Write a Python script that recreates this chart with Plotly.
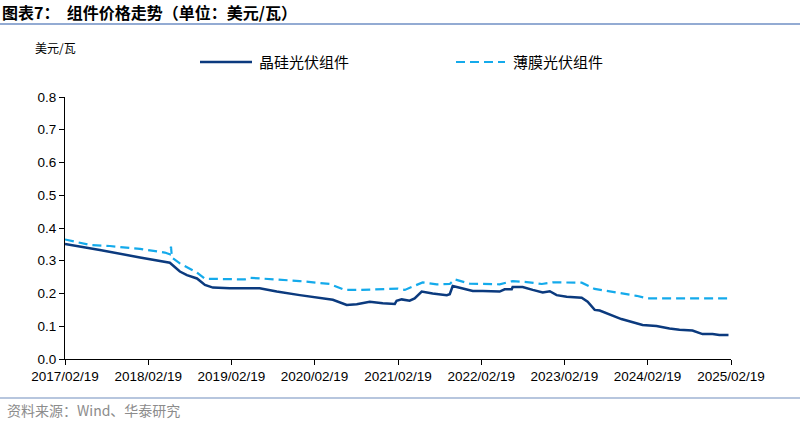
import plotly.graph_objects as go

# 晶硅光伏组件 (crystalline silicon modules), USD/W
csi_dates = ["2017-02-19","2017-07-22","2018-01-14","2018-05-25","2018-07-08","2018-08-08","2018-09-21",
             "2018-10-26","2018-11-30","2019-02-12","2019-06-23","2019-09-06","2019-12-16","2020-02-28",
             "2020-05-09","2020-07-09","2020-08-22","2020-10-18","2020-12-14","2021-02-05","2021-02-13",
             "2021-03-07","2021-04-11","2021-05-03","2021-06-03","2021-07-21","2021-09-21","2021-10-04",
             "2021-10-17","2021-11-26","2022-01-13","2022-02-26","2022-05-11","2022-06-02","2022-07-03",
             "2022-07-07","2022-08-20","2022-10-03","2022-11-16","2022-12-17","2023-01-16","2023-03-01",
             "2023-05-06","2023-06-01","2023-07-02","2023-07-24","2023-10-06","2023-10-27","2024-01-28",
             "2024-03-29","2024-05-25","2024-07-08","2024-09-03","2024-10-17","2024-11-30","2024-12-30",
             "2025-02-08"]
csi_values = [0.351,0.333,0.310,0.294,0.267,0.256,0.246,
              0.226,0.218,0.216,0.216,0.206,0.195,0.188,
              0.181,0.165,0.167,0.175,0.170,0.168,0.178,
              0.182,0.178,0.185,0.206,0.200,0.195,0.198,
              0.223,0.216,0.208,0.208,0.206,0.213,0.213,
              0.220,0.220,0.211,0.203,0.207,0.195,0.190,
              0.187,0.175,0.150,0.148,0.129,0.122,0.104,
              0.101,0.093,0.089,0.087,0.076,0.076,0.073,
              0.073]

# 薄膜光伏组件 (thin-film modules), USD/W
tf_dates = ["2017-02-19","2017-06-09","2017-09-04","2018-01-14","2018-05-03","2018-05-25","2018-05-30",
            "2018-06-03","2018-07-08","2018-09-21","2018-10-26","2019-04-19","2019-05-11","2019-09-19",
            "2019-12-16","2020-04-26","2020-06-30","2020-09-04","2020-12-23","2021-02-18","2021-03-21",
            "2021-04-25","2021-06-07","2021-08-08","2021-10-04","2021-10-26","2021-12-31","2022-05-11",
            "2022-07-07","2022-09-07","2022-11-12","2022-12-30","2023-05-06","2023-07-02","2023-10-06",
            "2024-01-01","2024-02-19","2025-02-08"]
tf_values = [0.365,0.348,0.345,0.336,0.325,0.320,0.343,
             0.310,0.292,0.264,0.245,0.243,0.248,0.243,
             0.238,0.229,0.211,0.211,0.213,0.215,0.211,
             0.221,0.234,0.228,0.229,0.243,0.230,0.228,
             0.238,0.235,0.229,0.234,0.233,0.214,0.203,
             0.193,0.185,0.185]

tick_dates = ["2017-02-19","2018-02-19","2019-02-19","2020-02-19","2021-02-19",
              "2022-02-19","2023-02-19","2024-02-19","2025-02-19"]
tick_labels = ["2017/02/19","2018/02/19","2019/02/19","2020/02/19","2021/02/19",
               "2022/02/19","2023/02/19","2024/02/19","2025/02/19"]
y_ticks = [0.0,0.1,0.2,0.3,0.4,0.5,0.6,0.7,0.8]

CJK = "Noto Sans CJK SC"
LAT = "Liberation Sans, Arial"
DASH = "9px,5px"

fig = go.Figure()
fig.add_trace(go.Scatter(x=csi_dates, y=csi_values, mode="lines", name="晶硅光伏组件",
                         line=dict(color="#0B3A7E", width=2.5)))
fig.add_trace(go.Scatter(x=tf_dates, y=tf_values, mode="lines", name="薄膜光伏组件",
                         line=dict(color="#14AAEB", width=2.2, dash=DASH)))

fig.update_layout(
    width=800, height=423,
    margin=dict(l=65, r=69, t=97, b=64),
    paper_bgcolor="white", plot_bgcolor="white",
    showlegend=False,
    xaxis=dict(type="date", range=["2017-02-19", "2025-02-19"],
               tickvals=tick_dates, ticktext=tick_labels,
               showline=True, linecolor="black", linewidth=1,
               ticks="outside", ticklen=5, tickcolor="black",
               showgrid=False, zeroline=False,
               tickfont=dict(family=LAT, size=13.5, color="black")),
    yaxis=dict(range=[0, 0.8], tickvals=y_ticks, tickformat=".1f",
               showline=True, linecolor="black", linewidth=1,
               ticks="outside", ticklen=5, tickcolor="black",
               showgrid=False, zeroline=False,
               tickfont=dict(family=LAT, size=13.5, color="black")),
)

# Title, rules, unit label, source
fig.add_annotation(xref="paper", yref="paper", x=-65/666, y=1+(97-12)/262, xanchor="left", yanchor="middle",
                   text="<b>图表7：  组件价格走势（单位：美元/瓦）</b>", showarrow=False,
                   font=dict(family=CJK, size=16, color="black"))
fig.add_shape(type="line", xref="paper", yref="paper", x0=-65/666, x1=1+69/666,
              y0=1+(97-24)/262, y1=1+(97-24)/262, line=dict(color="#6F8FC4", width=1.5))
fig.add_shape(type="line", xref="paper", yref="paper", x0=-65/666, x1=1+69/666,
              y0=-(398-359)/262, y1=-(398-359)/262, line=dict(color="#9FB3D3", width=1.5))
fig.add_annotation(xref="paper", yref="paper", x=-(65-33)/666, y=1+(97-47)/262, xanchor="left", yanchor="middle",
                   text="美元/瓦", showarrow=False, font=dict(family=CJK, size=12, color="black"))
fig.add_annotation(xref="paper", yref="paper", x=-(65-5)/666, y=-(410-359)/262, xanchor="left", yanchor="middle",
                   text="资料来源：Wind、华泰研究", showarrow=False, font=dict(family=CJK, size=14, color="#8C8C8C"))

# Custom legend
ly = 1 + (97-62)/262
fig.add_shape(type="line", xref="paper", yref="paper", x0=(200-65)/666, x1=(252-65)/666, y0=ly, y1=ly,
              line=dict(color="#0B3A7E", width=2.5))
fig.add_annotation(xref="paper", yref="paper", x=(257-65)/666, y=ly, xanchor="left", yanchor="middle",
                   text="晶硅光伏组件", showarrow=False, font=dict(family=CJK, size=15, color="black"))
fig.add_shape(type="line", xref="paper", yref="paper", x0=(456-65)/666, x1=(505-65)/666, y0=ly, y1=ly,
              line=dict(color="#14AAEB", width=2.2, dash=DASH))
fig.add_annotation(xref="paper", yref="paper", x=(511-65)/666, y=ly, xanchor="left", yanchor="middle",
                   text="薄膜光伏组件", showarrow=False, font=dict(family=CJK, size=15, color="black"))

fig.write_html("out.html")
